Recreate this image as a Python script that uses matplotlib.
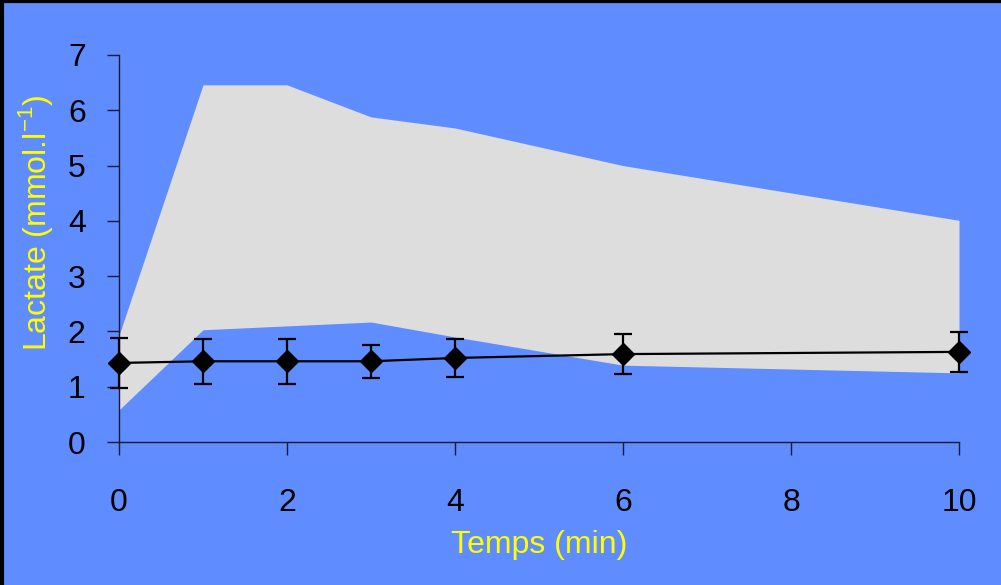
import matplotlib

matplotlib.use("Agg")
import matplotlib.pyplot as plt
from matplotlib.lines import Line2D

# data
temps = [0, 1, 2, 3, 4, 6, 10]
band_low = [0.58, 2.03, 2.10, 2.17, 1.90, 1.39, 1.25]
band_high = [1.93, 6.46, 6.46, 5.88, 5.68, 5.00, 4.01]
lactate_mean = [1.43, 1.46, 1.46, 1.46, 1.52, 1.59, 1.63]
lactate_sd = [0.45, 0.41, 0.41, 0.30, 0.34, 0.36, 0.36]

x_ticks = [0, 2, 4, 6, 8, 10]
y_ticks = [0, 1, 2, 3, 4, 5, 6, 7]

BLUE = "#5F8CFF"
BAND = "#DDDDDD"
YELLOW = "#FFFF00"
SPINE = "#1a1a33"

plt.rcParams["font.family"] = ["Liberation Sans", "DejaVu Sans"]

fig = plt.figure(figsize=(10.01, 5.85), dpi=100, facecolor=BLUE)
ax = fig.add_axes([119 / 1001, 143 / 585, 840 / 1001, 387 / 585])
ax.set_facecolor(BLUE)

ax.fill_between(temps, band_low, band_high, color=BAND, linewidth=0, zorder=1)
ax.errorbar(
    temps,
    lactate_mean,
    yerr=lactate_sd,
    color="black",
    linewidth=1.6,
    elinewidth=1.6,
    capsize=6.5,
    capthick=1.6,
    marker="D",
    markersize=11,
    zorder=3,
    clip_on=False,
)

ax.set_xlim(0, 10)
ax.set_ylim(0, 7)
ax.set_xticks(x_ticks)
ax.set_yticks(y_ticks)
for side in ["top", "right"]:
    ax.spines[side].set_visible(False)
for side in ["left", "bottom"]:
    ax.spines[side].set_color(SPINE)
    ax.spines[side].set_linewidth(1.0)
ax.tick_params(axis="both", direction="out", length=9, width=1.0, color=SPINE,
               labelsize=23, labelcolor="black")
ax.tick_params(axis="x", pad=24)
ax.tick_params(axis="y", pad=15)

ax.set_xlabel("Temps (min)", color=YELLOW, fontsize=23, labelpad=9)
ax.set_ylabel("Lactate (mmol.l$^{\\mathregular{-1}}$)", color=YELLOW, fontsize=23)
ax.yaxis.set_label_coords(-0.076, 0.565)

# black frame on the top and left edges
fig.add_artist(Line2D([0.0015, 0.0015], [0, 1], color="black", linewidth=3, transform=fig.transFigure))
fig.add_artist(Line2D([0, 1], [0.9975, 0.9975], color="black", linewidth=3, transform=fig.transFigure))

fig.savefig("out.png", dpi=100, facecolor=BLUE)
